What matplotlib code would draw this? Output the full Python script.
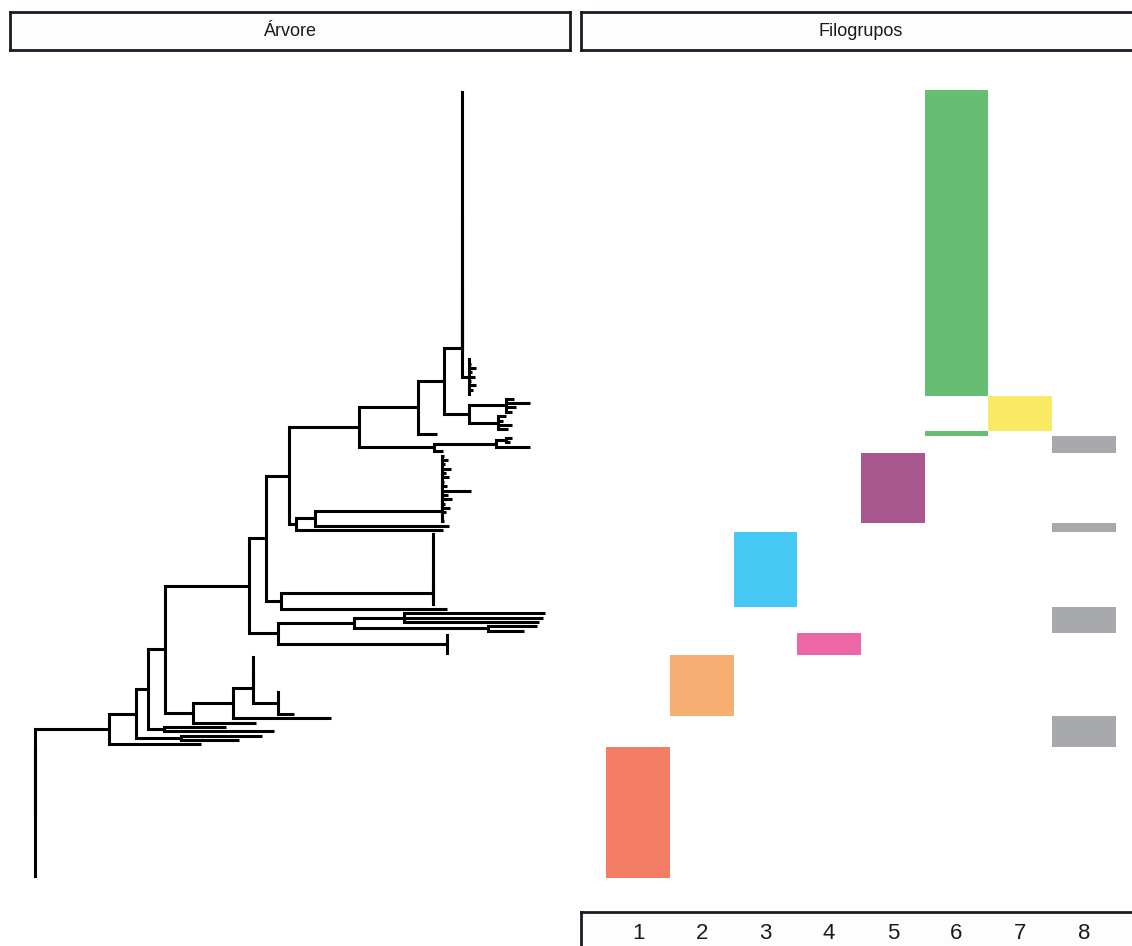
import matplotlib
matplotlib.use("Agg")
import matplotlib.pyplot as plt
from matplotlib.collections import LineCollection

plt.rcParams["font.family"] = ["Liberation Sans", "DejaVu Sans"]

# árvore: folha = (comprimento, filogrupo), nó = (comprimento, [filhos de baixo para cima])
grupo1 = (0.0, [(0.0, 1)] * 30)

E = (0.016, [(0.110, 8), (0.062, 8)])
C = (0.045, [(0.058, 8), (0.081, 8)])
K = (0.025, [(0.016, 2)] + [(0.001, 2)] * 5)
J = (0.020, [K, (0.0, [(0.001, 2)] * 8)])
I = (0.040, [(0.098, 8), J])
H = (0.028, [(0.063, 8), I])

grupo4 = (0.169, [(0.001, 4)] * 5)
N487 = (0.134, [(0.035, 8), (0.048, 8)])
N403 = (0.050, [(0.134, 8), (0.138, 8), (0.140, 8)])
G_baixo = (0.029, [grupo4, (0.076, [N487, N403])])

grupo3 = (0.152, [(0.001, 3), (0.0, [(0.001, 3), (0.0, [(0.001, 3)] * 15)])])
L_baixo = (0.015, [(0.166, 8), grupo3])

comp_g5 = [0.004, 0.008, 0.003, 0.010, 0.006, 0.029, 0.005,
           0.002, 0.007, 0.004, 0.009, 0.003, 0.006, 0.002]
grupo5 = (0.127, [(0.002, 5), (0.0, [(0.001, 5), (0.0, [(c, 5) for c in comp_g5])])])
O = (0.019, [(0.134, 8), grupo5])
N = (0.007, [(0.147, 8), O])

R = (0.062, [(0.033, 8), (0.010, [(0.004, 8), (0.006, 8)])])
Q = (0.075, [(0.009, 8), R])

U = (0.025, [(0.029, [(0.010, 7), (0.014, 7), (0.005, 7), (0.008, 7)]),
             (0.037, [(0.006, 7), (0.010, 7), (0.023, 7), (0.008, 7)])])
comp_W = [0.001, 0.004, 0.007, 0.002, 0.006, 0.003, 0.007, 0.002, 0.001]
W = (0.007, [(c, 6) for c in comp_W])
X = (0.0, [(0.001, 6), (0.0, [(0.001, 6), (0.0, [(0.001, 6)] * 59)])])
V = (0.018, [W, X])
T = (0.026, [U, V])
S = (0.059, [(0.019, 6), T])
P = (0.070, [Q, S])
M = (0.023, [N, P])
L = (0.017, [L_baixo, M])
G = (0.084, [G_baixo, L])
F = (0.017, [H, G])
D = (0.012, [E, F])
B = (0.027, [C, D])
A = (0.073, [(0.092, 8), B])
raiz = (0.0, [grupo1, A])

cores = {1: "#F37E65", 2: "#F7AE72", 3: "#45C8F3", 4: "#EC67A5",
         5: "#A9578F", 6: "#66BE72", 7: "#F8EA63", 8: "#A7A9AC"}
rotulos_x = ["1", "2", "3", "4", "5", "6", "7", "8"]

# layout retangular: y das folhas em ordem, nó interno na média dos filhos
verticais = []
horizontais = []
folhas = []


def layout(no, x0):
    comp, conteudo = no
    x = x0 + comp
    if isinstance(conteudo, list):
        ys = [layout(f, x) for f in conteudo]
        verticais.append([(x, min(ys)), (x, max(ys))])
        y = sum(ys) / len(ys)
    else:
        y = len(folhas)
        folhas.append((x, conteudo))
    if comp > 0:
        horizontais.append([(x0, y), (x, y)])
    return y


layout(raiz, 0.0)
n = len(folhas)
xmax = max(x for x, _ in folhas)

W_PX, H_PX = 1132, 946
fig = plt.figure(figsize=(W_PX / 100, H_PX / 100), dpi=100, facecolor="white")


def caixa(x0, y0, x1, y1):
    return [x0 / W_PX, 1 - y1 / H_PX, (x1 - x0) / W_PX, (y1 - y0) / H_PX]


ax_arv = fig.add_axes(caixa(10, 53, 570, 915))
ax_fil = fig.add_axes(caixa(581, 53, 1141, 915))

ax_arv.add_collection(LineCollection(horizontais, colors="black", linewidths=2.2,
                                     capstyle="butt"))
ax_arv.add_collection(LineCollection(verticais, colors="black", linewidths=2.2,
                                     capstyle="projecting"))
ax_arv.set_xlim(-0.05 * xmax, 1.05 * xmax)
ax_arv.set_ylim(-0.05 * (n - 1), 1.05 * (n - 1))
ax_arv.axis("off")

# faixas contínuas de cada filogrupo na ordem das folhas
inicio = 0
for i in range(1, n + 1):
    if i == n or folhas[i][1] != folhas[inicio][1]:
        g = folhas[inicio][1]
        ax_fil.bar(g, i - inicio, bottom=inicio - 0.5, width=1.0,
                   color=cores[g], linewidth=0)
        inicio = i
ax_fil.set_xlim(0.1, 8.9)
ax_fil.set_ylim(-0.05 * (n - 1), 1.05 * (n - 1))
ax_fil.set_xticks(range(1, 9))
ax_fil.set_xticklabels(rotulos_x, fontsize=16, color="#1A1A1A")
ax_fil.tick_params(axis="x", length=0, pad=6)
ax_fil.set_yticks([])
for s in ax_fil.spines.values():
    s.set_visible(False)
ax_fil.patch.set_alpha(0)

# caixas dos títulos e do eixo
for pos, texto in [(caixa(10, 12, 570, 50), "Árvore"),
                   (caixa(581, 12, 1141, 50), "Filogrupos"),
                   (caixa(581, 912, 1141, 990), None)]:
    ax = fig.add_axes(pos, zorder=-1)
    ax.set_facecolor("#FDFDFD")
    ax.set_xticks([])
    ax.set_yticks([])
    for s in ax.spines.values():
        s.set_linewidth(2.0)
        s.set_color("#1A1D26")
    if texto:
        ax.text(0.5, 0.48, texto, ha="center", va="center", fontsize=13,
                color="#1A1A1A", transform=ax.transAxes)

fig.savefig("out.png", dpi=100)
